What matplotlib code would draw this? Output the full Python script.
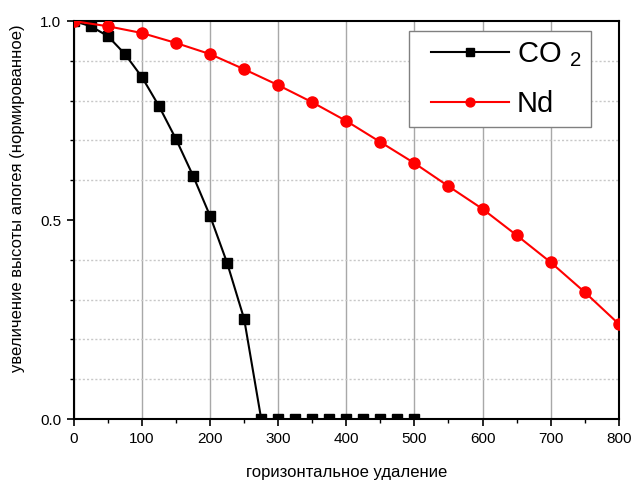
import matplotlib
matplotlib.use('Agg')
import matplotlib.pyplot as plt
from matplotlib.ticker import MultipleLocator
from matplotlib.legend_handler import HandlerLine2D

plt.rcParams['font.family'] = ['Liberation Sans', 'DejaVu Sans']
plt.rcParams['mathtext.default'] = 'regular'

# Data
co2_x = [0, 25, 50, 75, 100, 125, 150, 175, 200, 225, 250, 275,
         300, 325, 350, 375, 400, 425, 450, 475, 500]
co2_y = [1.0, 0.987, 0.962, 0.917, 0.859, 0.786, 0.703, 0.611, 0.510, 0.392, 0.251, 0.0,
         0.0, 0.0, 0.0, 0.0, 0.0, 0.0, 0.0, 0.0, 0.0]

nd_x = [0, 50, 100, 150, 200, 250, 300, 350, 400, 450, 500, 550,
        600, 650, 700, 750, 800]
nd_y = [1.0, 0.987, 0.970, 0.945, 0.917, 0.879, 0.839, 0.796, 0.749, 0.696,
        0.643, 0.585, 0.528, 0.462, 0.394, 0.319, 0.239]

yticks = [0.0, 0.5, 1.0]
ytick_labels = ['0.0', '0.5', '1.0']


class PaddedHandler(HandlerLine2D):
    """Line handle with extra blank space on its left side (pad in points)"""
    def create_artists(self, legend, orig_handle, xdescent, ydescent,
                       width, height, fontsize, trans):
        pad = 9.5
        return super().create_artists(legend, orig_handle, xdescent - pad, ydescent,
                                      width - pad, height, fontsize, trans)


fig = plt.figure(figsize=(6.32, 4.8), dpi=100)
ax = fig.add_axes([0.117, 0.127, 0.862, 0.829])

ax.plot(co2_x, co2_y, color='black', lw=1.5, marker='s', ms=6.5,
        label='CO$_{\\;\\,2}$', zorder=3)
ax.plot(nd_x, nd_y, color='red', lw=1.5, marker='o', ms=8, label='Nd', zorder=3)

ax.set_xlim(0, 800)
ax.set_ylim(0, 1.0)
ax.xaxis.set_major_locator(MultipleLocator(100))
ax.xaxis.set_minor_locator(MultipleLocator(50))
ax.set_yticks(yticks)
ax.set_yticklabels(ytick_labels)
ax.yaxis.set_minor_locator(MultipleLocator(0.1))

ax.grid(True, which='major', axis='x', color='#a8a8a8', lw=1.0, ls='-')
ax.grid(True, which='minor', axis='y', color='#c8c8c8', lw=1.0, ls=(0, (1.5, 1.5)))
ax.set_axisbelow(True)

ax.tick_params(which='major', direction='out', length=5, width=1.2, labelsize=11, pad=4)
ax.tick_params(which='minor', direction='out', length=3, width=1.0)
for s in ax.spines.values():
    s.set_linewidth(1.5)

ax.set_xlabel('горизонтальное удаление', fontsize=12, labelpad=14)
ax.set_ylabel('увеличение высоты апогея (нормированное)', fontsize=12)
ax.yaxis.set_label_coords(-0.09, 0.555)

leg = ax.legend(loc='upper right', bbox_to_anchor=(0.9486, 0.975), borderaxespad=0,
                fontsize=21, numpoints=1, markerscale=0.8,
                handlelength=3.12, fancybox=False, edgecolor='#808080',
                framealpha=1.0, borderpad=0.3, labelspacing=0.75, handletextpad=0.27,
                handler_map={matplotlib.lines.Line2D: PaddedHandler()})
leg.get_frame().set_linewidth(1.0)

fig.savefig('out.png', dpi=100)
